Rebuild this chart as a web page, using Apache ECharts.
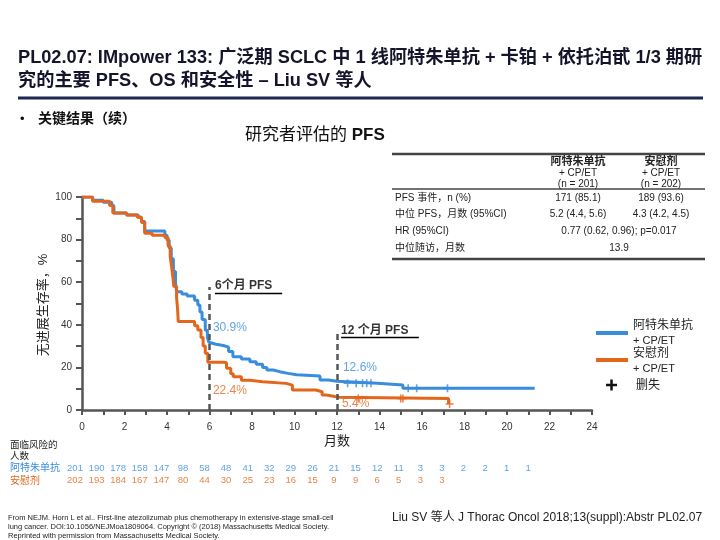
<!DOCTYPE html>
<html><head><meta charset="utf-8">
<script src="https://cdn.jsdelivr.net/npm/echarts@6/dist/echarts.min.js"></script>
<style>html,body{margin:0;padding:0;background:#fff}#c{width:720px;height:540px}</style>
</head><body><div id="c"></div>
<script>
// ---- data ----
const xTickLabels = [0,2,4,6,8,10,12,14,16,18,20,22,24];
const yTickLabels = [0,20,40,60,80,100];
const blueKM = [[0,100],[0.5,98.5],[1.0,97.5],[1.4,96],[1.5,92.5],[2.1,91.5],[2.65,90.5],[2.8,88.5],[2.95,84],[3.9,82],[4.0,79.8],[4.1,76],[4.2,71],[4.3,65],[4.4,60],[4.45,55.5],[4.7,54.5],[4.95,53.5],[5.3,51.5],[5.45,49.3],[5.55,46],[5.65,42.5],[5.8,37.5],[5.9,34],[5.97,31.8],[6.05,30.9],[6.3,30.3],[6.65,29.5],[6.9,27.5],[7.1,25],[7.5,24],[7.9,22.7],[8.2,21.5],[8.5,20],[8.7,18.8],[9.0,18],[9.3,17.2],[9.7,16.6],[10.1,16],[11.2,14.1],[11.6,13.5],[12.0,12.6],[13.9,11.7],[15.1,10.2],[21.3,10.2]];
const orangeKM = [[0,100],[0.5,98],[1.3,96],[1.45,92.5],[2.1,91.5],[2.6,90.5],[2.8,88],[2.95,83],[3.3,82],[3.9,81],[4.05,77],[4.15,72],[4.22,67],[4.28,62],[4.32,58],[4.45,53],[4.5,47],[4.53,41.5],[5.3,39.5],[5.45,37.6],[5.6,34],[5.7,30],[5.8,26.6],[5.92,22.4],[6.7,22.2],[6.8,19.6],[7.0,17],[7.12,15.6],[7.5,14],[7.9,13.3],[8.5,12.5],[9.6,11.7],[9.9,9.4],[11.0,8.6],[11.3,7],[11.5,6.3],[11.9,6.0],[12.1,5.4],[17.25,2.8]];
const blueCensor = [[12.5,12.6],[12.9,12.6],[13.2,12.6],[13.4,12.6],[13.6,12.6],[15.35,10.2],[15.75,10.2],[17.2,10.2]];
const orangeCensor = [[13.0,5.4],[15.0,5.4],[15.1,5.4],[17.3,2.8]];
const riskMonths = [0,1,2,3,4,5,6,7,8,9,10,11,12,13,14,15,16,17,18,19,20,21];
const blueAtRisk = [201,190,178,158,147,98,58,48,41,32,29,26,21,15,12,11,3,3,2,2,1,1];
const orangeAtRisk = [202,193,184,167,147,80,44,30,25,23,16,15,9,9,6,5,3,3];
const riskRows = ['阿特朱单抗','安慰剂'];
const landmarks = [6,12];
const annotations = [
  {pos:[6.26,58.2], text:'6个月 PFS', kind:'head'},
  {pos:[6.16,38.5], text:'30.9%', kind:'blue'},
  {pos:[6.16,8.9],  text:'22.4%', kind:'orange'},
  {pos:[12.19,37.1], text:'12 个月 PFS', kind:'head'},
  {pos:[12.28,19.7], text:'12.6%', kind:'blue'},
  {pos:[12.24,2.8], text:'5.4%', kind:'orange'}
];
const landmarkTop = [57.7, 37.6];
const underlines = [[[6.26,54.8],[9.42,54.8]],[[12.19,34.0],[15.85,34.0]]];

// ---- style ----
const BLUE = '#3a8cdc', ORANGE = '#e2671c', AX = '#555';
const FONT = "'Liberation Sans','Noto Sans CJK SC',sans-serif";
const PLUS = 'path://M-1,-5H1V-1H5V1H1V5H-1V1H-5V-1H-1Z';

const chart = echarts.init(document.getElementById('c'), null, {renderer:'canvas'});

function annotLabel(a){
  const st = a.kind==='head' ? {color:'#000', fontWeight:'bold', fontSize:12}
           : {color: a.kind==='blue'?BLUE:ORANGE, fontSize:12};
  return {value:a.pos, label:Object.assign({show:true, position:'right', distance:0, formatter:a.text, fontFamily:FONT}, st)};
}

const tableX0 = 392, tableX1 = 705, col1 = 578, col2 = 661, colMid = 619;
const tf = {fontFamily:FONT, fontSize:10, fill:'#222'};
function T(x,y,text,extra){return {type:'text', x:x, y:y, style:Object.assign({text:text, textVerticalAlign:'middle'}, tf, extra||{})};}
function L(x1,y1,x2,y2,w,c){return {type:'line', shape:{x1,y1,x2,y2}, style:{stroke:c||'#444', lineWidth:w}};}

const graphics = [
  // title
  {type:'text', x:18, y:58, style:{text:'PL02.07: IMpower 133: 广泛期 SCLC 中 1 线阿特朱单抗 + 卡铂 + 依托泊甙 1/3 期研', fontFamily:FONT, fontSize:18.2, fontWeight:'bold', fill:'#14142b', textVerticalAlign:'middle'}},
  {type:'text', x:18, y:81, style:{text:'究的主要 PFS、OS 和安全性 – Liu SV 等人', fontFamily:FONT, fontSize:18.2, fontWeight:'bold', fill:'#14142b', textVerticalAlign:'middle'}},
  L(18,98,703,98,3,'#1c2950'),
  {type:'text', x:20, y:119, style:{text:'•', fontFamily:FONT, fontSize:13, fill:'#111', textVerticalAlign:'middle'}},
  {type:'text', x:38, y:119, style:{text:'关键结果（续）', fontFamily:FONT, fontSize:14, fontWeight:'bold', fill:'#111', textVerticalAlign:'middle'}},
  {type:'text', x:245, y:135, style:{text:'研究者评估的 {b|PFS}', rich:{b:{fontWeight:'bold', fontSize:17, fontFamily:FONT, fill:'#111'}}, fontFamily:FONT, fontSize:17, fill:'#111', textVerticalAlign:'middle'}},
  // table
  L(tableX0,154,tableX1,154,2.5,'#444'),
  L(tableX0,189,tableX1,189,1.5,'#444'),
  L(tableX0,259,tableX1,259,2.5,'#444'),
  T(col1,162,'阿特朱单抗',{textAlign:'center', fontWeight:'bold', fontSize:11}),
  T(col1,173,'+ CP/ET',{textAlign:'center'}),
  T(col1,184,'(n = 201)',{textAlign:'center'}),
  T(col2,162,'安慰剂',{textAlign:'center', fontWeight:'bold', fontSize:11}),
  T(col2,173,'+ CP/ET',{textAlign:'center'}),
  T(col2,184,'(n = 202)',{textAlign:'center'}),
  T(395,198,'PFS 事件，n (%)'),
  T(col1,198,'171 (85.1)',{textAlign:'center'}),
  T(col2,198,'189 (93.6)',{textAlign:'center'}),
  T(395,214,'中位 PFS，月数 (95%CI)'),
  T(col1,214,'5.2 (4.4, 5.6)',{textAlign:'center'}),
  T(col2,214,'4.3 (4.2, 4.5)',{textAlign:'center'}),
  T(395,231,'HR (95%CI)'),
  T(colMid,231,'0.77 (0.62, 0.96); p=0.017',{textAlign:'center'}),
  T(395,248,'中位随访，月数'),
  T(colMid,248,'13.9',{textAlign:'center'}),
  // y axis title
  {type:'text', x:43, y:305, rotation:Math.PI/2, style:{text:'无进展生存率，%', fontFamily:FONT, fontSize:13, fill:'#222', textAlign:'center', textVerticalAlign:'middle'}},
  // legend
  L(596,333,628,333,4,BLUE),
  T(633,326,'阿特朱单抗',{fontSize:12}),
  T(633,341,'+ CP/ET',{fontSize:11}),
  L(596,360,628,360,4,ORANGE),
  T(633,354,'安慰剂',{fontSize:12}),
  T(633,369,'+ CP/ET',{fontSize:11}),
  L(606,385,617,385,2.5,'#111'),
  L(611.5,379.5,611.5,390.5,2.5,'#111'),
  T(636,386,'删失',{fontSize:12}),
  // risk table header
  T(10,445,'面临风险的',{fontSize:9.5}),
  T(10,456,'人数',{fontSize:9.5}),
  // footer
  T(8,518,'From NEJM. Horn L et al.. First-line atezolizumab plus chemotherapy in extensive-stage small-cell',{fontSize:7.5}),
  T(8,527,'lung cancer. DOI:10.1056/NEJMoa1809064. Copyright © (2018) Massachusetts Medical Society.',{fontSize:7.5}),
  T(8,536,'Reprinted with permission from Massachusetts Medical Society.',{fontSize:7.5}),
  T(392,518,'Liu SV 等人 J Thorac Oncol 2018;13(suppl):Abstr PL02.07',{fontSize:12})
];

const option = {
  animation:false,
  backgroundColor:'#fff',
  textStyle:{fontFamily:FONT},
  grid:[
    {left:82, right:128, top:197, bottom:130, containLabel:false},
    {left:75, right:127, top:462, height:25, containLabel:false}
  ],
  xAxis:[
    {gridIndex:0, type:'value', min:0, max:24, interval:1,
     axisLine:{show:true, lineStyle:{color:AX, width:2.5}},
     axisTick:{show:true, length:5, lineStyle:{color:AX, width:2}},
     axisLabel:{color:'#333', fontSize:10, margin:12, fontFamily:FONT,
       formatter:v=> xTickLabels.indexOf(v)>=0 ? String(v) : ''},
     splitLine:{show:false},
     name:'月数', nameLocation:'middle', nameGap:25, nameTextStyle:{color:'#222', fontSize:13, fontFamily:FONT}},
    {gridIndex:1, type:'value', min:0, max:24, show:false}
  ],
  yAxis:[
    {gridIndex:0, type:'value', min:0, max:100, interval:10,
     axisLine:{show:true, lineStyle:{color:AX, width:2.5}},
     axisTick:{show:true, length:6, lineStyle:{color:AX, width:2}},
     axisLabel:{color:'#333', fontSize:10, margin:10, fontFamily:FONT,
       formatter:v=> yTickLabels.indexOf(v)>=0 ? String(v) : ''},
     splitLine:{show:false}},
    {gridIndex:1, type:'category', data:riskRows, inverse:true,
     axisLine:{show:false}, axisTick:{show:false}, splitLine:{show:false},
     axisLabel:{show:true, interval:0, hideOverlap:false, align:'left', margin:65, fontSize:10, fontFamily:FONT,
       formatter:(v)=> v===riskRows[0] ? '{b|'+v+'}' : '{o|'+v+'}',
       rich:{b:{color:BLUE, fontSize:10, fontFamily:FONT}, o:{color:ORANGE, fontSize:10, fontFamily:FONT}}}}
  ],
  series:[
    {name:'阿特朱单抗 + CP/ET', type:'line', step:'end', data:blueKM, showSymbol:false, symbol:'none',
     lineStyle:{color:BLUE, width:3}, itemStyle:{color:BLUE}, z:3},
    {name:'安慰剂 + CP/ET', type:'line', step:'end', data:orangeKM, showSymbol:false, symbol:'none',
     lineStyle:{color:ORANGE, width:3}, itemStyle:{color:ORANGE}, z:4},
    {name:'删失A', type:'scatter', data:blueCensor, symbol:PLUS, symbolSize:8, itemStyle:{color:BLUE}, z:5},
    {name:'删失B', type:'scatter', data:orangeCensor, symbol:PLUS, symbolSize:8, itemStyle:{color:ORANGE}, z:5},
    {name:'annot', type:'scatter', data:annotations.map(annotLabel), symbolSize:0, z:6,
     markLine:{silent:true, symbol:'none', label:{show:false},
       data: landmarks.map((m,i)=>[{coord:[m,0], lineStyle:{color:AX, width:2.5, type:[6,4]}},{coord:[m,landmarkTop[i]]}])
         .concat(underlines.map(u=>[{coord:u[0], lineStyle:{color:'#000', width:1.3, type:'solid'}},{coord:u[1]}]))}},
    {name:'riskBlue', type:'scatter', xAxisIndex:1, yAxisIndex:1, symbolSize:0,
     data: blueAtRisk.map((v,i)=>[riskMonths[i], riskRows[0], v]),
     label:{show:true, position:'inside', formatter:p=>p.value[2], color:BLUE, fontSize:9.5, fontFamily:FONT}},
    {name:'riskOrange', type:'scatter', xAxisIndex:1, yAxisIndex:1, symbolSize:0,
     data: orangeAtRisk.map((v,i)=>[riskMonths[i], riskRows[1], v]),
     label:{show:true, position:'inside', formatter:p=>p.value[2], color:ORANGE, fontSize:9.5, fontFamily:FONT}}
  ],
  graphic: graphics
};
chart.setOption(option);
</script></body></html>
